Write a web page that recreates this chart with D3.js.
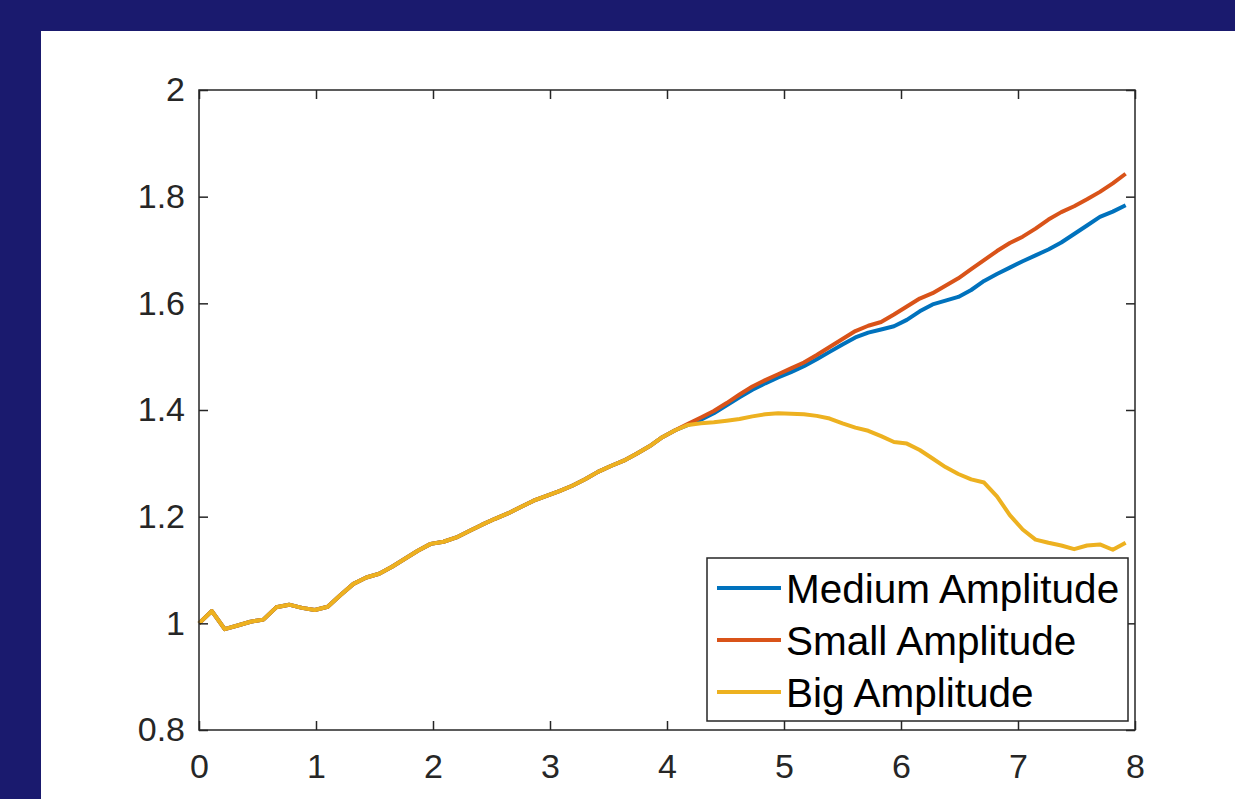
<!DOCTYPE html>
<html>
<head>
<meta charset="utf-8">
<script src="https://cdn.jsdelivr.net/npm/d3@7"></script>
<style>
  html, body { margin: 0; padding: 0; background: #1a1a6e; }
  svg { display: block; }
</style>
</head>
<body>
<svg id="chart" width="1235" height="799"></svg>
<script>
// Sample times
const time = [
  0.00, 0.11, 0.22, 0.33, 0.44, 0.55, 0.66, 0.77, 0.88, 0.99,
  1.10, 1.21, 1.32, 1.43, 1.54, 1.65, 1.76, 1.87, 1.98, 2.09,
  2.20, 2.31, 2.42, 2.53, 2.64, 2.75, 2.86, 2.97, 3.08, 3.19,
  3.30, 3.41, 3.52, 3.63, 3.74, 3.85, 3.96, 4.07, 4.18, 4.29,
  4.40, 4.51, 4.62, 4.73, 4.84, 4.95, 5.06, 5.17, 5.28, 5.39,
  5.50, 5.61, 5.72, 5.83, 5.94, 6.05, 6.16, 6.27, 6.38, 6.49,
  6.60, 6.71, 6.82, 6.93, 7.04, 7.15, 7.26, 7.37, 7.48, 7.59,
  7.70, 7.81, 7.92
];

const mediumAmplitude = [
  1.000, 1.023, 0.989, 0.996, 1.003, 1.007, 1.030, 1.035, 1.029, 1.025,
  1.031, 1.053, 1.074, 1.086, 1.093, 1.106, 1.121, 1.136, 1.149, 1.153,
  1.161, 1.173, 1.185, 1.196, 1.206, 1.218, 1.230, 1.239, 1.248, 1.258,
  1.270, 1.284, 1.295, 1.305, 1.318, 1.332, 1.349, 1.362, 1.372, 1.382,
  1.394, 1.409, 1.424, 1.438, 1.450, 1.461, 1.471, 1.482, 1.495, 1.509,
  1.523, 1.536, 1.545, 1.551, 1.557, 1.569, 1.585, 1.598, 1.605, 1.612,
  1.625, 1.642, 1.655, 1.667, 1.679, 1.690, 1.701, 1.714, 1.730, 1.746,
  1.762, 1.772, 1.784
];

const smallAmplitude = [
  1.000, 1.023, 0.989, 0.996, 1.003, 1.007, 1.030, 1.035, 1.029, 1.025,
  1.031, 1.053, 1.074, 1.086, 1.093, 1.106, 1.121, 1.136, 1.149, 1.153,
  1.161, 1.173, 1.185, 1.196, 1.206, 1.218, 1.230, 1.239, 1.248, 1.258,
  1.270, 1.284, 1.295, 1.305, 1.318, 1.332, 1.349, 1.362, 1.374, 1.386,
  1.398, 1.413, 1.429, 1.444, 1.456, 1.467, 1.478, 1.489, 1.503, 1.518,
  1.533, 1.548, 1.558, 1.565, 1.579, 1.594, 1.609, 1.619, 1.633, 1.647,
  1.664, 1.681, 1.698, 1.713, 1.725, 1.740, 1.757, 1.771, 1.782, 1.795,
  1.809, 1.825, 1.843
];

const bigAmplitude = [
  1.000, 1.023, 0.989, 0.996, 1.003, 1.007, 1.030, 1.035, 1.029, 1.025,
  1.031, 1.053, 1.074, 1.086, 1.093, 1.106, 1.121, 1.136, 1.149, 1.153,
  1.161, 1.173, 1.185, 1.196, 1.206, 1.218, 1.230, 1.239, 1.248, 1.258,
  1.270, 1.284, 1.295, 1.305, 1.318, 1.332, 1.349, 1.362, 1.372, 1.375,
  1.377, 1.380, 1.383, 1.388, 1.392, 1.394, 1.393, 1.392, 1.389, 1.384,
  1.375, 1.367, 1.361, 1.351, 1.340, 1.337, 1.325, 1.309, 1.293, 1.280,
  1.270, 1.264, 1.238, 1.203, 1.176, 1.157, 1.151, 1.146, 1.139, 1.146,
  1.148, 1.138, 1.151
];

const seriesNames = ["Medium Amplitude", "Small Amplitude", "Big Amplitude"];
const seriesColors = ["#0072BD", "#D95319", "#EDB120"];
const xTicks = [0, 1, 2, 3, 4, 5, 6, 7, 8];
const yTicks = [0.8, 1.0, 1.2, 1.4, 1.6, 1.8, 2.0];
const yTickLabels = ["0.8", "1", "1.2", "1.4", "1.6", "1.8", "2"];

const seriesValues = [mediumAmplitude, smallAmplitude, bigAmplitude];

const svg = d3.select("#chart");
const font = "'Liberation Sans', Arial, Helvetica, sans-serif";
const axisColor = "#262626";

// Figure background and white plotting panel
svg.append("rect").attr("x", 0).attr("y", 0).attr("width", 1235).attr("height", 799).attr("fill", "#1a1a6e");
svg.append("rect").attr("x", 41).attr("y", 31).attr("width", 1194).attr("height", 768).attr("fill", "#ffffff");

const plot = { left: 199, right: 1135, top: 90, bottom: 730 };

const x = d3.scaleLinear().domain([0, 8]).range([plot.left, plot.right]);
const y = d3.scaleLinear().domain([0.8, 2]).range([plot.bottom, plot.top]);

// Data lines
const line = d3.line()
  .x(d => x(d[0]))
  .y(d => y(d[1]));

const lines = svg.append("g").attr("fill", "none").attr("stroke-width", 4)
  .attr("stroke-linejoin", "round").attr("stroke-linecap", "butt");

seriesValues.forEach((vals, k) => {
  lines.append("path")
    .datum(time.map((t, i) => [t, vals[i]]))
    .attr("stroke", seriesColors[k])
    .attr("d", line);
});

// Axes: ticks pointing inward on all four sides
const tickLen = 9;
const axisStyle = g => {
  g.selectAll(".domain").remove();
  g.selectAll(".tick line").attr("stroke", axisColor).attr("stroke-width", 1.5);
  g.selectAll(".tick text").attr("fill", axisColor).attr("font-family", font).attr("font-size", 34);
};

svg.append("g")
  .attr("transform", `translate(0,${plot.bottom})`)
  .call(d3.axisBottom(x).tickValues(xTicks).tickFormat(d3.format("d")).tickSizeInner(-tickLen).tickSizeOuter(0).tickPadding(24))
  .call(axisStyle);

svg.append("g")
  .attr("transform", `translate(0,${plot.top})`)
  .call(d3.axisTop(x).tickValues(xTicks).tickFormat("").tickSizeInner(-tickLen).tickSizeOuter(0))
  .call(axisStyle);

svg.append("g")
  .attr("transform", `translate(${plot.left},0)`)
  .call(d3.axisLeft(y).tickValues(yTicks).tickFormat((d, i) => yTickLabels[i]).tickSizeInner(-tickLen).tickSizeOuter(0).tickPadding(14))
  .call(axisStyle);

svg.append("g")
  .attr("transform", `translate(${plot.right},0)`)
  .call(d3.axisRight(y).tickValues(yTicks).tickFormat("").tickSizeInner(-tickLen).tickSizeOuter(0))
  .call(axisStyle);

// Axes box
svg.append("rect")
  .attr("x", plot.left).attr("y", plot.top)
  .attr("width", plot.right - plot.left).attr("height", plot.bottom - plot.top)
  .attr("fill", "none").attr("stroke", axisColor).attr("stroke-width", 1.5);

// Legend
const legend = svg.append("g");
legend.append("rect")
  .attr("x", 707).attr("y", 558).attr("width", 421).attr("height", 163)
  .attr("fill", "#ffffff").attr("stroke", axisColor).attr("stroke-width", 1.5);

const legendRowY = [588, 640, 692];
seriesNames.forEach((name, k) => {
  legend.append("line")
    .attr("x1", 717).attr("x2", 781)
    .attr("y1", legendRowY[k]).attr("y2", legendRowY[k])
    .attr("stroke", seriesColors[k]).attr("stroke-width", 4);
  legend.append("text")
    .attr("x", 786).attr("y", legendRowY[k] + 15)
    .attr("font-family", font).attr("font-size", 40.5)
    .attr("fill", "#000000")
    .text(name);
});
</script>
</body>
</html>
